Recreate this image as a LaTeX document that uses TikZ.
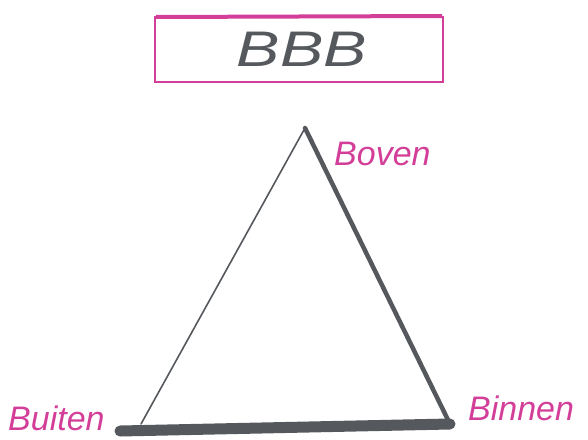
\documentclass[tikz,border=0pt]{standalone}
\usepackage{fontspec}
\setmainfont{Liberation Sans}
\usepackage{xcolor}
\definecolor{bbbpink}{HTML}{D33F98}
\definecolor{bbbgrey}{HTML}{55585C}

\begin{document}
\begin{tikzpicture}[x=1pt,y=-1pt]
  \tikzset{titlebox/.style={draw=bbbpink,line width=1.6pt}}
  \tikzset{sideedge/.style={draw=bbbgrey,line cap=round,line join=round}}
  \tikzset{cornerlabel/.style={text=bbbpink,font=\fontsize{34}{34}\selectfont\itshape,inner sep=0pt}}
  \useasboundingbox (0,0) rectangle (588,439);
  % title
  \draw[titlebox] (155,17) rectangle (443,82);
  \draw[draw=bbbpink,line width=4pt] (156,17) -- (442,16);
  \node[text=bbbgrey,font=\fontsize{50}{50}\selectfont\itshape,xscale=1.3,transform shape] (title) at (302,49) {BBB};
  % corners
  \coordinate (top) at (305,128);
  \coordinate (left) at (120,431);
  \coordinate (right) at (450,424);
  \coordinate (leftfoot) at (141,424);
  \draw[sideedge,line width=1.6pt] (top) -- (leftfoot);
  \draw[sideedge,line width=4.5pt] (top) -- (right);
  \draw[sideedge,line width=11pt] (left) -- (right);
  % labels
  \node[cornerlabel,anchor=west] (boven) at (334,154) {Boven};
  \node[cornerlabel,anchor=west] (buiten) at (8,418) {Buiten};
  \node[cornerlabel,anchor=west] (binnen) at (468,408) {Binnen};
\end{tikzpicture}
\end{document}
